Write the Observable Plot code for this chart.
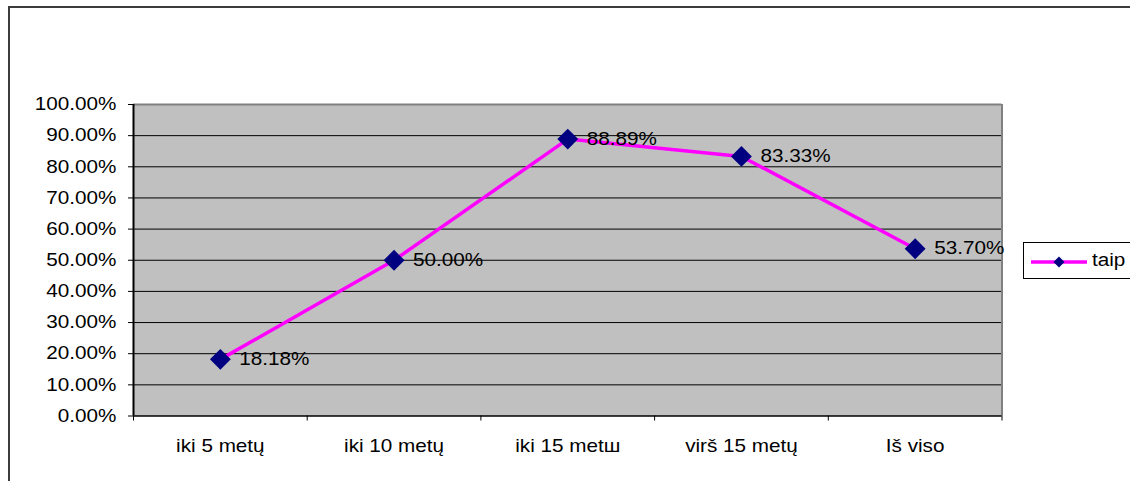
<!DOCTYPE html>
<html><head><meta charset="utf-8">
<script src="https://cdn.jsdelivr.net/npm/d3@7"></script>
<script src="https://cdn.jsdelivr.net/npm/@observablehq/plot@0.6"></script>
<style>
body{margin:0;background:#fff;}
#wrap{position:relative;width:1130px;height:481px;overflow:hidden;font-family:"Liberation Sans",Arial,sans-serif;}
#wrap svg.plot{position:absolute;left:0;top:0;}
#frame{position:absolute;left:8px;top:6px;width:1300px;height:700px;border-top:2px solid #3c3c3c;border-left:2px solid #3c3c3c;pointer-events:none;}
#legend{position:absolute;left:1023px;top:242px;width:160px;height:35px;border:1px solid #000;background:#fff;}
#legend svg{position:absolute;left:0;top:0;}
#legend span{position:absolute;left:68px;top:0;line-height:35px;font-size:18px;color:#000;transform:scaleX(1.15);transform-origin:left center;}
</style></head><body>
<div id="wrap"></div>
<script>
const categories = ["iki 5 metų", "iki 10 metų", "iki 15 metш", "virš 15 metų", "Iš viso"];
const values = [18.18, 50.00, 88.89, 83.33, 53.70];
const yTicks = [0, 10, 20, 30, 40, 50, 60, 70, 80, 90, 100];
const seriesName = "taip";

const LINE = "#FF00FF", MARK = "#000080", BG = "#C0C0C0", SX = 1.15;
const data = categories.map((c, i) => ({c, i, v: values[i]}));
const pos = d => d.i + 0.5;
const fmt = d => d.toFixed(2) + "%";

const chart = Plot.plot({
  width: 1130, height: 481,
  marginLeft: 133, marginRight: 128.5, marginTop: 104, marginBottom: 65.5,
  style: {fontFamily: "'Liberation Sans', Arial, sans-serif", fontSize: "18px", color: "#000", background: "transparent"},
  x: {domain: [0, categories.length]},
  y: {domain: [0, 100]},
  marks: [
    Plot.frame({fill: BG, stroke: "none"}),
    Plot.ruleY(yTicks.slice(1, -1), {stroke: "#000", strokeWidth: 1}),
    Plot.ruleY([100], {stroke: "#808080", strokeWidth: 2}),
    Plot.ruleX([categories.length], {stroke: "#808080", strokeWidth: 2}),
    Plot.ruleX([0], {stroke: "#000", strokeWidth: 2}),
    Plot.ruleY([0], {stroke: "#000", strokeWidth: 1.5}),
    Plot.axisY({ticks: yTicks, tickFormat: fmt, tickSize: 5, tickPadding: 12, label: null}),
    Plot.axisX({ticks: d3.range(categories.length + 1), tickFormat: () => "", tickSize: 5, label: null}),
    Plot.axisX({ticks: data.map(pos), tickFormat: d => categories[Math.floor(d)], tickSize: 0, tickPadding: 23, label: null}),
    Plot.line(data, {x: pos, y: "v", stroke: LINE, strokeWidth: 3.5}),
    Plot.dot(data, {x: pos, y: "v", symbol: "diamond2", r: 9.4, fill: MARK, stroke: "none"}),
    Plot.text(data, {x: pos, y: "v", text: d => fmt(d.v), textAnchor: "start", dx: 19, fill: "#000", fontSize: 18})
  ]
});
chart.classList.add("plot");
// horizontal stretch of the text, as in the reference
chart.querySelectorAll("text").forEach(t => {
  const tr = t.getAttribute("transform") || "";
  const x = t.getAttribute("x");
  if (x != null) { t.setAttribute("x", (+x) / SX); }
  t.setAttribute("transform", (tr + ` scale(${SX},1)`).trim());
});
const wrap = document.getElementById("wrap");
wrap.appendChild(chart);
const frame = document.createElement("div"); frame.id = "frame"; wrap.appendChild(frame);

// legend
const leg = document.createElement("div"); leg.id = "legend";
leg.innerHTML = `<svg width="70" height="35"><line x1="7" x2="63" y1="19" y2="19" stroke="${LINE}" stroke-width="3.5"/><path d="M35,13.5L40.5,19L35,24.5L29.5,19Z" fill="${MARK}"/></svg><span></span>`;
leg.querySelector("span").textContent = seriesName;
wrap.appendChild(leg);
</script>
</body></html>
